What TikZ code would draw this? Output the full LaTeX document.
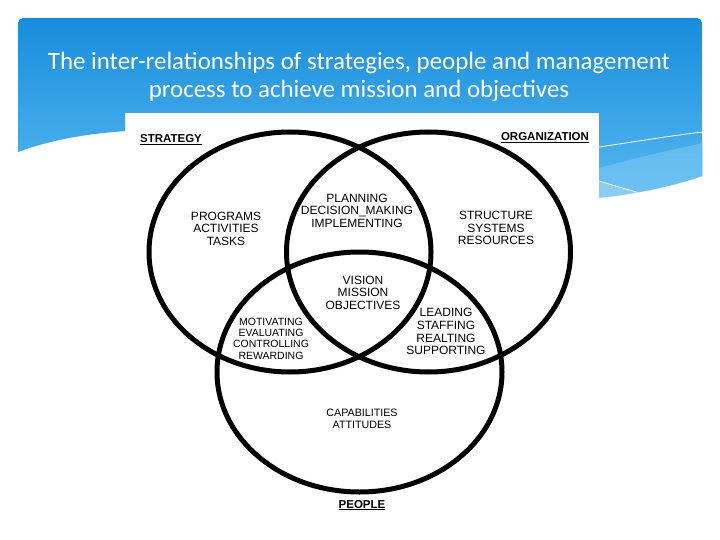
\documentclass[tikz,border=0pt]{standalone}
\usepackage{fontspec}
\setmainfont{Liberation Sans}
\newfontfamily\titlefont{Carlito}
\definecolor{bluetop}{RGB}{24,141,220}
\definecolor{bluebot}{RGB}{92,188,242}
\definecolor{lightband}{RGB}{130,202,246}
\begin{document}
\begin{tikzpicture}[x=1pt,y=-1pt,
  lbl/.style={font=\fontsize{12}{12.6}\selectfont, align=center, inner sep=0pt, text=black},
  lblsmall/.style={font=\fontsize{10.5}{11.4}\selectfont, align=center, inner sep=0pt, text=black},
  hdr/.style={font=\bfseries\fontsize{11.5}{12}\selectfont, inner sep=0pt, anchor=base, text=black},
  ttl/.style={font=\titlefont\fontsize{24.9}{28}\selectfont, text=white, anchor=base, inner sep=0pt},
  venn/.style={draw=black, line width=5pt},
  wline/.style={draw=white, line width=0.8pt}]
\useasboundingbox (0,0) rectangle (720,540);
\fill[white] (0,0) rectangle (720,540);
% blue header area
\begin{scope}
  \clip (0,0) -- (720,0) -- (720,176) -- (702,176)
        .. controls (680,184) and (640,194) .. (596,198)
        -- (130,198) -- (128,131)
        .. controls (90,133) and (50,140) .. (18,152) -- (0,152) -- cycle;
  \shade[top color=bluetop, bottom color=bluebot, rounded corners=5pt] (18,18) rectangle (702,215);
  \fill[lightband, opacity=0.55] (599,168) .. controls (640,157) and (680,148) .. (703,143) -- (703,215) -- (599,215) -- cycle;
  \fill[white, opacity=0.2] (599,181) .. controls (615,186) and (630,190) .. (646,195) -- (599,215) -- cycle;
  \draw[wline] (599,147) .. controls (640,141) and (675,135) .. (703,132);
  \draw[wline] (599,181) .. controls (615,186) and (630,190) .. (646,195);
\end{scope}
\node[ttl] (title1) at (359,69.5) {The inter-relationships of strategies, people and management};
\node[ttl] (title2) at (359,97.5) {process to achieve mission and objectives};
% white panel
\fill[white] (125,113) rectangle (599,540);
% Venn ellipses
\draw[venn] (290,252) ellipse [x radius=141pt, y radius=120pt];
\draw[venn] (428.5,252) ellipse [x radius=142pt, y radius=120pt];
\draw[venn] (359.5,372) ellipse [x radius=142.5pt, y radius=120pt];
% headers
\node[hdr] (strategy) at (171,143) {\underline{STRATEGY}};
\node[hdr] (organization) at (545,141) {\underline{ORGANIZATION}};
\node[hdr] (people) at (362,508) {\underline{PEOPLE}};
% region labels
\node[lbl] (programs) at (226,228.7) {PROGRAMS\\ACTIVITIES\\TASKS};
\node[lbl] (planning) at (357,210.5) {PLANNING\\DECISION\_MAKING\\IMPLEMENTING};
\node[lbl] (structure) at (496,228) {STRUCTURE\\SYSTEMS\\RESOURCES};
\node[lbl] (vision) at (363,292.5) {VISION\\MISSION\\OBJECTIVES};
\node[lblsmall] (motivating) at (271,338.5) {MOTIVATING\\EVALUATING\\CONTROLLING\\REWARDING};
\node[lbl, font=\fontsize{12}{12.8}\selectfont] (leading) at (446,331.5) {LEADING\\STAFFING\\REALTING\\SUPPORTING};
\node[lblsmall, font=\fontsize{10.7}{11.7}\selectfont] (capabilities) at (362,419) {CAPABILITIES\\ATTITUDES};
\end{tikzpicture}
\end{document}
